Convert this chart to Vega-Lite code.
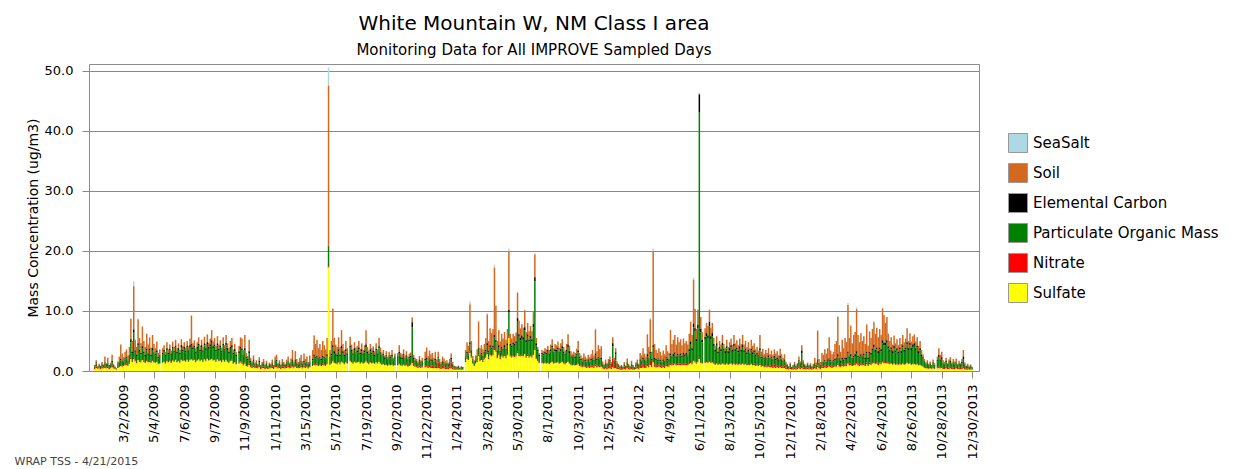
{
"$schema":"https://vega.github.io/schema/vega-lite/v6.json",
"width":890,"height":307,
"autosize":"none",
"padding":{"left":89,"top":64,"right":271,"bottom":98},
"background":"white",
"title":{"text":"White Mountain W, NM Class I area","subtitle":"Monitoring Data for All IMPROVE Sampled Days","frame":"group","anchor":"middle","fontSize":20,"fontWeight":"normal","color":"black","subtitleFontSize":15,"subtitleColor":"black","offset":6,"subtitlePadding":9},
"data":{"values":[
{"t":"2009-01-01","a":0,"b":0.1,"c":0.1,"d":0.3,"e":0.2,"f":0.3},
{"t":"2009-01-04","a":0,"b":0.4,"c":0.1,"d":0.5,"e":0.3,"f":0.5},
{"t":"2009-01-07","a":0,"b":0.1,"c":0.1,"d":0.2,"e":0.1,"f":0.3},
{"t":"2009-01-10","a":0,"b":0.2,"c":0.1,"d":0.3,"e":0.2,"f":0.4},
{"t":"2009-01-13","a":0,"b":0.1,"c":0.1,"d":0.2,"e":0.2,"f":0.3},
{"t":"2009-01-16","a":0,"b":0.3,"c":0.1,"d":0.4,"e":0.3,"f":0.4},
{"t":"2009-01-19","a":0,"b":0.1,"c":0.1,"d":0.3,"e":0.2,"f":0.4},
{"t":"2009-01-22","a":0,"b":1.0,"c":0.1,"d":0.5,"e":0.3,"f":0.5},
{"t":"2009-01-25","a":0,"b":0.2,"c":0.1,"d":0.4,"e":0.2,"f":0.4},
{"t":"2009-01-28","a":0,"b":0.9,"c":0.1,"d":0.5,"e":0.2,"f":0.5},
{"t":"2009-01-31","a":0,"b":0.1,"c":0.1,"d":0.3,"e":0.2,"f":0.3},
{"t":"2009-02-03","a":0,"b":0.3,"c":0.1,"d":0.4,"e":0.2,"f":0.4},
{"t":"2009-02-06","a":0,"b":1.0,"c":0.2,"d":0.6,"e":0.3,"f":0.6},
{"t":"2009-02-09","a":0,"b":0.2,"c":0.1,"d":0.3,"e":0.2,"f":0.4},
{"t":"2009-02-12","a":0,"b":0,"c":0.1,"d":0.2,"e":0.1,"f":0.3},
{"t":"2009-02-15","a":0,"b":0.1,"c":0,"d":0.1,"e":0.1,"f":0.2},
{"t":"2009-02-18","a":0,"b":0.4,"c":0.1,"d":0.4,"e":0.2,"f":0.5},
{"t":"2009-02-21","a":0,"b":0.9,"c":0.1,"d":0.6,"e":0.2,"f":0.6},
{"t":"2009-02-24","a":0,"b":2.4,"c":0.2,"d":0.8,"e":0.2,"f":0.8},
{"t":"2009-02-27","a":0,"b":1.2,"c":0.1,"d":0.7,"e":0.2,"f":0.7},
{"t":"2009-03-02","a":0,"b":0.6,"c":0.1,"d":0.6,"e":0.2,"f":0.8},
{"t":"2009-03-05","a":0,"b":1.1,"c":0.2,"d":0.8,"e":0.2,"f":0.9},
{"t":"2009-03-08","a":0,"b":1.3,"c":0.2,"d":0.9,"e":0.2,"f":1.0},
{"t":"2009-03-11","a":0,"b":0.9,"c":0.1,"d":0.7,"e":0.1,"f":0.8},
{"t":"2009-03-14","a":0,"b":1.4,"c":0.2,"d":1.0,"e":0.2,"f":1.2},
{"t":"2009-03-17","a":0.1,"b":3.4,"c":0.5,"d":2.5,"e":0.3,"f":2.0},
{"t":"2009-03-20","a":0,"b":1.8,"c":0.2,"d":1.3,"e":0.2,"f":1.5},
{"t":"2009-03-23","a":0.8,"b":7.2,"c":0.4,"d":4.2,"e":0.3,"f":2.0},
{"t":"2009-03-26","a":0,"b":1.8,"c":0.2,"d":1.4,"e":0.2,"f":1.6},
{"t":"2009-03-29","a":0,"b":1.3,"c":0.2,"d":1.0,"e":0.2,"f":1.3},
{"t":"2009-04-01","a":0.1,"b":4.0,"c":0.4,"d":2.2,"e":0.2,"f":1.8},
{"t":"2009-04-04","a":0,"b":2.0,"c":0.3,"d":1.5,"e":0.2,"f":1.5},
{"t":"2009-04-07","a":0,"b":1.6,"c":0.2,"d":1.2,"e":0.2,"f":1.4},
{"t":"2009-04-10","a":0,"b":3.3,"c":0.3,"d":1.8,"e":0.2,"f":1.8},
{"t":"2009-04-13","a":0,"b":1.8,"c":0.2,"d":1.3,"e":0.2,"f":1.5},
{"t":"2009-04-16","a":0,"b":1.3,"c":0.2,"d":1.1,"e":0.1,"f":1.3},
{"t":"2009-04-19","a":0,"b":2.5,"c":0.3,"d":1.6,"e":0.2,"f":1.6},
{"t":"2009-04-22","a":0,"b":1.5,"c":0.2,"d":1.2,"e":0.1,"f":1.4},
{"t":"2009-04-25","a":0,"b":1.9,"c":0.3,"d":1.7,"e":0.2,"f":1.5},
{"t":"2009-04-28","a":0,"b":1.2,"c":0.2,"d":1.1,"e":0.1,"f":1.3},
{"t":"2009-05-01","a":0,"b":2.2,"c":0.3,"d":1.8,"e":0.1,"f":1.6},
{"t":"2009-05-04","a":0,"b":1.4,"c":0.2,"d":1.4,"e":0.1,"f":1.4},
{"t":"2009-05-07","a":0,"b":1.0,"c":0.2,"d":1.2,"e":0.1,"f":1.3},
{"t":"2009-05-10","a":0,"b":1.5,"c":0.3,"d":1.5,"e":0.1,"f":1.5},
{"t":"2009-05-13","a":0,"b":0.7,"c":0.2,"d":0.9,"e":0.1,"f":1.1},
{"t":"2009-05-16","a":0,"b":1.0,"c":0.2,"d":1.1,"e":0.1,"f":1.2},
{"t":"2009-05-22","a":0,"b":0.8,"c":0.2,"d":1.4,"e":0.1,"f":1.3},
{"t":"2009-05-25","a":0,"b":0.8,"c":0.3,"d":1.6,"e":0.1,"f":1.5},
{"t":"2009-05-28","a":0,"b":0.5,"c":0.2,"d":1.2,"e":0.1,"f":1.2},
{"t":"2009-05-31","a":0,"b":1.0,"c":0.3,"d":1.8,"e":0.1,"f":1.6},
{"t":"2009-06-03","a":0,"b":0.6,"c":0.2,"d":1.3,"e":0.1,"f":1.4},
{"t":"2009-06-06","a":0,"b":0.7,"c":0.3,"d":1.7,"e":0.1,"f":1.6},
{"t":"2009-06-09","a":0,"b":0.5,"c":0.2,"d":1.3,"e":0.1,"f":1.3},
{"t":"2009-06-12","a":0,"b":0.9,"c":0.3,"d":1.9,"e":0.1,"f":1.7},
{"t":"2009-06-15","a":0,"b":0.7,"c":0.2,"d":1.5,"e":0.1,"f":1.5},
{"t":"2009-06-18","a":0,"b":1.0,"c":0.3,"d":2.0,"e":0.1,"f":1.8},
{"t":"2009-06-21","a":0,"b":0.6,"c":0.2,"d":1.5,"e":0.1,"f":1.4},
{"t":"2009-06-24","a":0,"b":0.8,"c":0.3,"d":1.8,"e":0.1,"f":1.6},
{"t":"2009-06-27","a":0,"b":0.5,"c":0.2,"d":1.4,"e":0.1,"f":1.3},
{"t":"2009-06-30","a":0,"b":1.0,"c":0.3,"d":2.1,"e":0.1,"f":1.8},
{"t":"2009-07-03","a":0,"b":0.7,"c":0.2,"d":1.6,"e":0.1,"f":1.6},
{"t":"2009-07-06","a":0,"b":0.8,"c":0.3,"d":1.9,"e":0.1,"f":1.7},
{"t":"2009-07-09","a":0,"b":0.6,"c":0.2,"d":1.5,"e":0.1,"f":1.5},
{"t":"2009-07-12","a":0,"b":0.8,"c":0.3,"d":2.0,"e":0.1,"f":1.8},
{"t":"2009-07-15","a":0,"b":0.7,"c":0.2,"d":1.6,"e":0.1,"f":1.5},
{"t":"2009-07-18","a":0,"b":1.1,"c":0.3,"d":2.1,"e":0.1,"f":1.8},
{"t":"2009-07-21","a":0.1,"b":4.7,"c":0.3,"d":2.2,"e":0.1,"f":1.9},
{"t":"2009-07-24","a":0,"b":0.7,"c":0.3,"d":1.8,"e":0.1,"f":1.7},
{"t":"2009-07-27","a":0,"b":0.9,"c":0.3,"d":2.0,"e":0.1,"f":1.8},
{"t":"2009-07-30","a":0,"b":0.6,"c":0.2,"d":1.5,"e":0.1,"f":1.4},
{"t":"2009-08-02","a":0,"b":0.8,"c":0.3,"d":1.9,"e":0.1,"f":1.7},
{"t":"2009-08-05","a":0,"b":1.1,"c":0.3,"d":2.2,"e":0.1,"f":1.9},
{"t":"2009-08-08","a":0,"b":0.7,"c":0.2,"d":1.6,"e":0.1,"f":1.6},
{"t":"2009-08-11","a":0,"b":0.9,"c":0.3,"d":2.1,"e":0.1,"f":1.8},
{"t":"2009-08-14","a":0,"b":0.6,"c":0.2,"d":1.6,"e":0.1,"f":1.5},
{"t":"2009-08-17","a":0,"b":1.1,"c":0.3,"d":2.3,"e":0.1,"f":1.9},
{"t":"2009-08-20","a":0,"b":0.7,"c":0.3,"d":1.8,"e":0.1,"f":1.6},
{"t":"2009-08-23","a":0,"b":1.3,"c":0.3,"d":2.4,"e":0.1,"f":2.0},
{"t":"2009-08-26","a":0,"b":0.7,"c":0.3,"d":1.9,"e":0.1,"f":1.7},
{"t":"2009-08-29","a":0,"b":1.0,"c":0.3,"d":2.2,"e":0.1,"f":1.8},
{"t":"2009-09-01","a":0,"b":1.7,"c":0.4,"d":2.6,"e":0.1,"f":2.0},
{"t":"2009-09-04","a":0,"b":0.8,"c":0.3,"d":2.0,"e":0.1,"f":1.7},
{"t":"2009-09-07","a":0,"b":1.1,"c":0.3,"d":2.2,"e":0.1,"f":1.8},
{"t":"2009-09-10","a":0,"b":0.7,"c":0.2,"d":1.7,"e":0.1,"f":1.5},
{"t":"2009-09-13","a":0,"b":1.2,"c":0.3,"d":2.3,"e":0.1,"f":1.9},
{"t":"2009-09-16","a":0,"b":0.7,"c":0.2,"d":1.8,"e":0.1,"f":1.6},
{"t":"2009-09-19","a":0,"b":0.9,"c":0.3,"d":2.1,"e":0.1,"f":1.7},
{"t":"2009-09-22","a":0,"b":0.6,"c":0.2,"d":1.6,"e":0.1,"f":1.4},
{"t":"2009-09-25","a":0,"b":1.1,"c":0.3,"d":2.3,"e":0.1,"f":1.8},
{"t":"2009-09-28","a":0,"b":0.7,"c":0.2,"d":1.8,"e":0.1,"f":1.5},
{"t":"2009-10-01","a":0,"b":1.3,"c":0.4,"d":2.4,"e":0.1,"f":1.8},
{"t":"2009-10-04","a":0,"b":0.8,"c":0.3,"d":1.9,"e":0.1,"f":1.5},
{"t":"2009-10-07","a":0,"b":0.6,"c":0.2,"d":1.6,"e":0.1,"f":1.3},
{"t":"2009-10-10","a":0,"b":1.0,"c":0.3,"d":2.0,"e":0.1,"f":1.6},
{"t":"2009-10-13","a":0,"b":1.2,"c":0.3,"d":2.1,"e":0.2,"f":1.7},
{"t":"2009-10-16","a":0,"b":0.6,"c":0.2,"d":1.5,"e":0.1,"f":1.2},
{"t":"2009-10-19","a":0,"b":0.9,"c":0.3,"d":1.8,"e":0.1,"f":1.4},
{"t":"2009-10-22","a":0,"b":0.5,"c":0.2,"d":1.3,"e":0.1,"f":1.1},
{"t":"2009-10-28","a":0,"b":0.9,"c":0.3,"d":1.6,"e":0.2,"f":1.2},
{"t":"2009-10-31","a":0,"b":1.6,"c":0.3,"d":2.1,"e":0.2,"f":1.4},
{"t":"2009-11-03","a":0,"b":1.7,"c":0.3,"d":2.0,"e":0.2,"f":1.2},
{"t":"2009-11-06","a":0,"b":0.9,"c":0.2,"d":1.3,"e":0.2,"f":0.9},
{"t":"2009-11-09","a":0,"b":2.2,"c":0.4,"d":2.0,"e":0.2,"f":1.2},
{"t":"2009-11-12","a":0,"b":0.7,"c":0.2,"d":1.1,"e":0.2,"f":0.8},
{"t":"2009-11-15","a":0,"b":0.5,"c":0.2,"d":0.9,"e":0.2,"f":0.7},
{"t":"2009-11-18","a":0,"b":1.9,"c":0.3,"d":1.8,"e":0.2,"f":1.0},
{"t":"2009-11-21","a":0,"b":0.5,"c":0.2,"d":0.7,"e":0.2,"f":0.6},
{"t":"2009-11-24","a":0,"b":0.3,"c":0.1,"d":0.5,"e":0.2,"f":0.5},
{"t":"2009-11-27","a":0,"b":0.7,"c":0.2,"d":0.8,"e":0.3,"f":0.6},
{"t":"2009-11-30","a":0,"b":0.3,"c":0.1,"d":0.4,"e":0.2,"f":0.4},
{"t":"2009-12-03","a":0,"b":0.4,"c":0.1,"d":0.5,"e":0.3,"f":0.5},
{"t":"2009-12-06","a":0,"b":0.2,"c":0.1,"d":0.3,"e":0.2,"f":0.4},
{"t":"2009-12-09","a":0,"b":0.6,"c":0.2,"d":0.6,"e":0.3,"f":0.6},
{"t":"2009-12-12","a":0,"b":0.1,"c":0.1,"d":0.3,"e":0.2,"f":0.3},
{"t":"2009-12-15","a":0,"b":0.3,"c":0.1,"d":0.4,"e":0.3,"f":0.4},
{"t":"2009-12-18","a":0,"b":0.6,"c":0.1,"d":0.5,"e":0.3,"f":0.5},
{"t":"2009-12-21","a":0,"b":0.2,"c":0.1,"d":0.3,"e":0.2,"f":0.3},
{"t":"2009-12-24","a":0,"b":0.4,"c":0.1,"d":0.5,"e":0.3,"f":0.4},
{"t":"2009-12-27","a":0,"b":0.1,"c":0.1,"d":0.2,"e":0.2,"f":0.3},
{"t":"2009-12-30","a":0,"b":0.3,"c":0.1,"d":0.4,"e":0.2,"f":0.4},
{"t":"2010-01-02","a":0,"b":0.2,"c":0.1,"d":0.3,"e":0.2,"f":0.4},
{"t":"2010-01-05","a":0,"b":0.5,"c":0.1,"d":0.5,"e":0.3,"f":0.5},
{"t":"2010-01-08","a":0,"b":0.1,"c":0.1,"d":0.3,"e":0.2,"f":0.3},
{"t":"2010-01-11","a":0,"b":0.7,"c":0.1,"d":0.6,"e":0.4,"f":0.6},
{"t":"2010-01-14","a":0,"b":0.9,"c":0.2,"d":0.6,"e":0.4,"f":0.6},
{"t":"2010-01-17","a":0,"b":0.2,"c":0.1,"d":0.4,"e":0.2,"f":0.4},
{"t":"2010-01-20","a":0,"b":0.4,"c":0.1,"d":0.5,"e":0.3,"f":0.5},
{"t":"2010-01-23","a":0,"b":0.2,"c":0.1,"d":0.3,"e":0.2,"f":0.3},
{"t":"2010-01-26","a":0,"b":0.6,"c":0.1,"d":0.5,"e":0.3,"f":0.5},
{"t":"2010-01-29","a":0,"b":0.3,"c":0.1,"d":0.4,"e":0.3,"f":0.4},
{"t":"2010-02-01","a":0,"b":0.2,"c":0.1,"d":0.3,"e":0.2,"f":0.4},
{"t":"2010-02-04","a":0,"b":0.5,"c":0.1,"d":0.5,"e":0.3,"f":0.5},
{"t":"2010-02-07","a":0,"b":0.8,"c":0.1,"d":0.6,"e":0.3,"f":0.6},
{"t":"2010-02-10","a":0,"b":0.3,"c":0.1,"d":0.4,"e":0.2,"f":0.4},
{"t":"2010-02-13","a":0,"b":0.7,"c":0.1,"d":0.5,"e":0.3,"f":0.5},
{"t":"2010-02-16","a":0,"b":1.6,"c":0.2,"d":0.7,"e":0.3,"f":0.7},
{"t":"2010-02-19","a":0,"b":0.5,"c":0.1,"d":0.4,"e":0.2,"f":0.4},
{"t":"2010-02-22","a":0,"b":1.4,"c":0.2,"d":0.7,"e":0.3,"f":0.7},
{"t":"2010-02-25","a":0,"b":0.7,"c":0.1,"d":0.5,"e":0.2,"f":0.5},
{"t":"2010-02-28","a":0,"b":0.4,"c":0.1,"d":0.4,"e":0.2,"f":0.4},
{"t":"2010-03-03","a":0,"b":0.8,"c":0.1,"d":0.5,"e":0.3,"f":0.5},
{"t":"2010-03-06","a":0,"b":1.1,"c":0.1,"d":0.6,"e":0.3,"f":0.6},
{"t":"2010-03-09","a":0,"b":0.5,"c":0.1,"d":0.4,"e":0.2,"f":0.4},
{"t":"2010-03-12","a":0,"b":1.2,"c":0.2,"d":0.6,"e":0.3,"f":0.6},
{"t":"2010-03-15","a":0,"b":0.7,"c":0.1,"d":0.5,"e":0.2,"f":0.5},
{"t":"2010-03-18","a":0,"b":0.9,"c":0.1,"d":0.6,"e":0.2,"f":0.6},
{"t":"2010-03-21","a":0,"b":0.4,"c":0.1,"d":0.4,"e":0.2,"f":0.4},
{"t":"2010-03-24","a":0,"b":1.1,"c":0.1,"d":0.6,"e":0.2,"f":0.6},
{"t":"2010-03-30","a":0,"b":1.5,"c":0.2,"d":0.8,"e":0.2,"f":0.8},
{"t":"2010-04-02","a":0.1,"b":3.2,"c":0.3,"d":1.2,"e":0.2,"f":1.0},
{"t":"2010-04-05","a":0,"b":2.2,"c":0.2,"d":1.0,"e":0.2,"f":0.9},
{"t":"2010-04-08","a":0,"b":2.7,"c":0.2,"d":1.1,"e":0.2,"f":1.0},
{"t":"2010-04-11","a":0,"b":1.7,"c":0.2,"d":0.9,"e":0.2,"f":0.8},
{"t":"2010-04-14","a":0,"b":2.2,"c":0.2,"d":1.0,"e":0.2,"f":0.9},
{"t":"2010-04-17","a":0,"b":1.5,"c":0.2,"d":0.8,"e":0.2,"f":0.8},
{"t":"2010-04-20","a":0,"b":2.5,"c":0.2,"d":1.1,"e":0.2,"f":1.0},
{"t":"2010-04-23","a":0,"b":2.0,"c":0.2,"d":1.0,"e":0.2,"f":0.9},
{"t":"2010-04-26","a":0,"b":1.5,"c":0.2,"d":0.9,"e":0.2,"f":0.8},
{"t":"2010-04-29","a":0,"b":2.7,"c":0.3,"d":1.2,"e":0.2,"f":1.1},
{"t":"2010-05-02","a":3.0,"b":26.7,"c":0.1,"d":3.3,"e":0.2,"f":17.2},
{"t":"2010-05-05","a":0,"b":1.2,"c":0.2,"d":1.0,"e":0.1,"f":1.0},
{"t":"2010-05-08","a":0,"b":2.1,"c":0.3,"d":1.3,"e":0.1,"f":1.2},
{"t":"2010-05-11","a":0,"b":6.1,"c":0.4,"d":2.2,"e":0.1,"f":1.6},
{"t":"2010-05-14","a":0,"b":2.2,"c":0.3,"d":1.6,"e":0.1,"f":1.3},
{"t":"2010-05-17","a":0,"b":1.5,"c":0.2,"d":1.4,"e":0.1,"f":1.2},
{"t":"2010-05-20","a":0,"b":1.3,"c":0.2,"d":1.3,"e":0.1,"f":1.1},
{"t":"2010-05-23","a":0,"b":2.0,"c":0.3,"d":1.8,"e":0.1,"f":1.4},
{"t":"2010-05-26","a":0,"b":1.3,"c":0.2,"d":1.3,"e":0.1,"f":1.1},
{"t":"2010-05-29","a":0,"b":2.6,"c":0.4,"d":2.2,"e":0.1,"f":1.5},
{"t":"2010-06-01","a":0,"b":1.2,"c":0.3,"d":1.6,"e":0.1,"f":1.3},
{"t":"2010-06-04","a":0,"b":0.8,"c":0.2,"d":1.3,"e":0.1,"f":1.1},
{"t":"2010-06-07","a":0,"b":1.4,"c":0.3,"d":1.8,"e":0.1,"f":1.4},
{"t":"2010-06-10","a":0,"b":0.9,"c":0.2,"d":1.4,"e":0.1,"f":1.2},
{"t":"2010-06-16","a":0,"b":1.5,"c":0.3,"d":2.2,"e":0.1,"f":1.6},
{"t":"2010-06-19","a":0,"b":0.9,"c":0.3,"d":1.7,"e":0.1,"f":1.4},
{"t":"2010-06-22","a":0,"b":0.7,"c":0.2,"d":1.4,"e":0.1,"f":1.2},
{"t":"2010-06-25","a":0,"b":1.0,"c":0.3,"d":1.9,"e":0.1,"f":1.5},
{"t":"2010-06-28","a":0,"b":0.8,"c":0.2,"d":1.5,"e":0.1,"f":1.3},
{"t":"2010-07-01","a":0,"b":0.8,"c":0.3,"d":1.6,"e":0.1,"f":1.4},
{"t":"2010-07-04","a":0,"b":1.1,"c":0.3,"d":2.0,"e":0.1,"f":1.5},
{"t":"2010-07-07","a":0,"b":0.7,"c":0.2,"d":1.5,"e":0.1,"f":1.2},
{"t":"2010-07-10","a":0,"b":1.0,"c":0.3,"d":1.8,"e":0.1,"f":1.4},
{"t":"2010-07-13","a":0,"b":0.6,"c":0.2,"d":1.4,"e":0.1,"f":1.2},
{"t":"2010-07-16","a":0,"b":0.9,"c":0.3,"d":1.7,"e":0.1,"f":1.3},
{"t":"2010-07-19","a":0,"b":2.4,"c":0.4,"d":2.3,"e":0.1,"f":1.6},
{"t":"2010-07-22","a":0,"b":0.8,"c":0.2,"d":1.6,"e":0.1,"f":1.3},
{"t":"2010-07-25","a":0,"b":0.6,"c":0.2,"d":1.4,"e":0.1,"f":1.1},
{"t":"2010-07-28","a":0,"b":0.9,"c":0.3,"d":1.8,"e":0.1,"f":1.4},
{"t":"2010-07-31","a":0,"b":0.8,"c":0.2,"d":1.5,"e":0.1,"f":1.2},
{"t":"2010-08-03","a":0,"b":0.7,"c":0.3,"d":1.7,"e":0.1,"f":1.3},
{"t":"2010-08-06","a":0,"b":0.6,"c":0.2,"d":1.3,"e":0.1,"f":1.1},
{"t":"2010-08-09","a":0,"b":0.9,"c":0.3,"d":1.9,"e":0.1,"f":1.4},
{"t":"2010-08-12","a":0,"b":0.7,"c":0.2,"d":1.4,"e":0.1,"f":1.2},
{"t":"2010-08-15","a":0,"b":1.4,"c":0.3,"d":2.2,"e":0.1,"f":1.5},
{"t":"2010-08-18","a":0,"b":0.8,"c":0.2,"d":1.6,"e":0.1,"f":1.2},
{"t":"2010-08-21","a":0,"b":0.5,"c":0.2,"d":1.3,"e":0.1,"f":1.0},
{"t":"2010-08-24","a":0,"b":0.7,"c":0.2,"d":1.4,"e":0.1,"f":1.1},
{"t":"2010-08-27","a":0,"b":0.4,"c":0.2,"d":1.0,"e":0.1,"f":0.9},
{"t":"2010-08-30","a":0,"b":0.7,"c":0.2,"d":1.3,"e":0.1,"f":1.0},
{"t":"2010-09-02","a":0,"b":0.4,"c":0.1,"d":1.0,"e":0.1,"f":0.8},
{"t":"2010-09-05","a":0,"b":0.6,"c":0.2,"d":1.3,"e":0.1,"f":1.0},
{"t":"2010-09-08","a":0,"b":0.4,"c":0.2,"d":1.1,"e":0.1,"f":0.9},
{"t":"2010-09-11","a":0,"b":0.8,"c":0.2,"d":1.4,"e":0.1,"f":1.0},
{"t":"2010-09-14","a":0,"b":0.3,"c":0.1,"d":0.9,"e":0.1,"f":0.8},
{"t":"2010-09-17","a":0,"b":0.5,"c":0.2,"d":1.2,"e":0.1,"f":0.9},
{"t":"2010-09-23","a":0,"b":0.6,"c":0.2,"d":1.2,"e":0.1,"f":0.9},
{"t":"2010-09-26","a":0,"b":1.1,"c":0.3,"d":1.7,"e":0.1,"f":1.1},
{"t":"2010-09-29","a":0,"b":0.6,"c":0.2,"d":1.2,"e":0.1,"f":0.9},
{"t":"2010-10-02","a":0,"b":0.6,"c":0.2,"d":1.1,"e":0.1,"f":0.8},
{"t":"2010-10-05","a":0,"b":0.8,"c":0.2,"d":1.5,"e":0.1,"f":1.0},
{"t":"2010-10-08","a":0,"b":0.5,"c":0.2,"d":1.0,"e":0.1,"f":0.8},
{"t":"2010-10-11","a":0,"b":0.7,"c":0.2,"d":1.3,"e":0.2,"f":0.9},
{"t":"2010-10-14","a":0,"b":0.5,"c":0.2,"d":0.9,"e":0.1,"f":0.7},
{"t":"2010-10-17","a":0,"b":0.6,"c":0.2,"d":1.1,"e":0.2,"f":0.8},
{"t":"2010-10-20","a":0,"b":0.6,"c":0.2,"d":1.2,"e":0.2,"f":0.9},
{"t":"2010-10-23","a":0.1,"b":0.8,"c":0.8,"d":5.8,"e":0.2,"f":1.3},
{"t":"2010-10-26","a":0,"b":0.5,"c":0.2,"d":1.0,"e":0.2,"f":0.8},
{"t":"2010-10-29","a":0,"b":0.4,"c":0.1,"d":0.8,"e":0.2,"f":0.7},
{"t":"2010-11-01","a":0,"b":0.4,"c":0.1,"d":0.7,"e":0.2,"f":0.6},
{"t":"2010-11-04","a":0,"b":0.3,"c":0.1,"d":0.5,"e":0.2,"f":0.5},
{"t":"2010-11-07","a":0,"b":0.6,"c":0.2,"d":0.8,"e":0.3,"f":0.6},
{"t":"2010-11-10","a":0,"b":0.4,"c":0.1,"d":0.6,"e":0.2,"f":0.5},
{"t":"2010-11-13","a":0,"b":0.6,"c":0.1,"d":0.7,"e":0.2,"f":0.6},
{"t":"2010-11-19","a":0,"b":1.2,"c":0.2,"d":0.9,"e":0.3,"f":0.6},
{"t":"2010-11-22","a":0,"b":1.7,"c":0.2,"d":1.0,"e":0.3,"f":0.7},
{"t":"2010-11-25","a":0,"b":0.9,"c":0.1,"d":0.7,"e":0.3,"f":0.5},
{"t":"2010-11-28","a":0,"b":1.3,"c":0.2,"d":0.9,"e":0.4,"f":0.6},
{"t":"2010-12-01","a":0,"b":0.9,"c":0.2,"d":0.8,"e":0.4,"f":0.5},
{"t":"2010-12-04","a":0,"b":1.1,"c":0.2,"d":0.8,"e":0.4,"f":0.5},
{"t":"2010-12-07","a":0,"b":0.8,"c":0.1,"d":0.6,"e":0.3,"f":0.4},
{"t":"2010-12-10","a":0,"b":1.2,"c":0.2,"d":0.9,"e":0.4,"f":0.5},
{"t":"2010-12-13","a":0,"b":0.6,"c":0.1,"d":0.5,"e":0.3,"f":0.4},
{"t":"2010-12-16","a":0,"b":0.9,"c":0.2,"d":0.7,"e":0.9,"f":0.5},
{"t":"2010-12-19","a":0,"b":0.6,"c":0.1,"d":0.5,"e":0.4,"f":0.4},
{"t":"2010-12-22","a":0,"b":0.4,"c":0.1,"d":0.4,"e":0.3,"f":0.3},
{"t":"2010-12-25","a":0,"b":0.8,"c":0.1,"d":0.6,"e":0.5,"f":0.4},
{"t":"2010-12-28","a":0,"b":0.7,"c":0.1,"d":0.5,"e":0.4,"f":0.4},
{"t":"2010-12-31","a":0,"b":0.5,"c":0.1,"d":0.4,"e":0.3,"f":0.3},
{"t":"2011-01-03","a":0,"b":0.5,"c":0.1,"d":0.5,"e":0.4,"f":0.3},
{"t":"2011-01-06","a":0,"b":0.3,"c":0.1,"d":0.4,"e":0.3,"f":0.3},
{"t":"2011-01-09","a":0,"b":0.6,"c":0.1,"d":0.5,"e":0.4,"f":0.4},
{"t":"2011-01-12","a":0,"b":0.7,"c":0.2,"d":0.6,"e":1.0,"f":0.4},
{"t":"2011-01-15","a":0,"b":0.4,"c":0.1,"d":0.4,"e":0.3,"f":0.3},
{"t":"2011-01-18","a":0,"b":0.1,"c":0.1,"d":0.3,"e":0.2,"f":0.2},
{"t":"2011-01-21","a":0,"b":0.1,"c":0.1,"d":0.2,"e":0.2,"f":0.2},
{"t":"2011-01-24","a":0,"b":0.1,"c":0.1,"d":0.2,"e":0.1,"f":0.2},
{"t":"2011-01-27","a":0,"b":0.1,"c":0.1,"d":0.3,"e":0.2,"f":0.2},
{"t":"2011-01-30","a":0,"b":0.1,"c":0,"d":0.2,"e":0.1,"f":0.2},
{"t":"2011-02-02","a":0,"b":0.1,"c":0.1,"d":0.2,"e":0.2,"f":0.2},
{"t":"2011-02-05","a":0,"b":0.1,"c":0.1,"d":0.2,"e":0.1,"f":0.2},
{"t":"2011-02-11","a":0,"b":1.1,"c":0.1,"d":0.6,"e":0.2,"f":1.5},
{"t":"2011-02-14","a":0,"b":1.6,"c":0.2,"d":0.8,"e":0.2,"f":2.0},
{"t":"2011-02-17","a":0,"b":1.4,"c":0.1,"d":0.7,"e":0.2,"f":1.8},
{"t":"2011-02-20","a":0.5,"b":6.3,"c":0.3,"d":1.2,"e":0.3,"f":3.0},
{"t":"2011-02-23","a":0,"b":1.6,"c":0.2,"d":0.8,"e":0.2,"f":2.2},
{"t":"2011-02-26","a":0,"b":0.6,"c":0.1,"d":0.5,"e":0.1,"f":1.2},
{"t":"2011-03-01","a":0,"b":0.4,"c":0.1,"d":0.4,"e":0.1,"f":0.8},
{"t":"2011-03-04","a":0,"b":0.7,"c":0.1,"d":0.5,"e":0.1,"f":1.2},
{"t":"2011-03-07","a":0,"b":1.2,"c":0.1,"d":0.6,"e":0.2,"f":1.5},
{"t":"2011-03-10","a":0.2,"b":4.3,"c":0.2,"d":1.0,"e":0.2,"f":2.5},
{"t":"2011-03-13","a":0,"b":1.2,"c":0.1,"d":0.7,"e":0.2,"f":1.6},
{"t":"2011-03-16","a":0,"b":1.3,"c":0.2,"d":0.8,"e":0.2,"f":1.8},
{"t":"2011-03-19","a":0,"b":1.1,"c":0.1,"d":0.7,"e":0.2,"f":1.5},
{"t":"2011-03-22","a":0,"b":1.4,"c":0.2,"d":0.8,"e":0.2,"f":1.9},
{"t":"2011-03-25","a":0,"b":2.0,"c":0.2,"d":0.9,"e":0.2,"f":2.2},
{"t":"2011-03-28","a":0.2,"b":4.8,"c":0.3,"d":1.2,"e":0.3,"f":2.8},
{"t":"2011-03-31","a":0,"b":1.7,"c":0.2,"d":0.9,"e":0.2,"f":2.0},
{"t":"2011-04-03","a":0,"b":2.8,"c":0.3,"d":1.2,"e":0.2,"f":2.6},
{"t":"2011-04-06","a":0,"b":2.5,"c":0.2,"d":1.0,"e":0.2,"f":2.4},
{"t":"2011-04-09","a":0,"b":2.8,"c":0.3,"d":1.1,"e":0.2,"f":2.6},
{"t":"2011-04-12","a":0.5,"b":11.2,"c":0.4,"d":1.8,"e":0.3,"f":3.5},
{"t":"2011-04-15","a":0.2,"b":5.7,"c":0.3,"d":1.4,"e":0.2,"f":3.2},
{"t":"2011-04-18","a":0,"b":1.6,"c":0.2,"d":0.9,"e":0.2,"f":2.1},
{"t":"2011-04-21","a":0,"b":2.5,"c":0.3,"d":1.2,"e":0.2,"f":2.6},
{"t":"2011-04-24","a":0,"b":1.6,"c":0.2,"d":0.9,"e":0.2,"f":2.0},
{"t":"2011-04-27","a":0,"b":2.2,"c":0.3,"d":1.1,"e":0.2,"f":2.4},
{"t":"2011-04-30","a":0,"b":1.8,"c":0.2,"d":1.0,"e":0.2,"f":2.2},
{"t":"2011-05-03","a":0,"b":2.2,"c":0.3,"d":1.3,"e":0.2,"f":2.5},
{"t":"2011-05-06","a":0,"b":1.6,"c":0.2,"d":1.1,"e":0.2,"f":2.1},
{"t":"2011-05-09","a":0,"b":2.4,"c":0.3,"d":1.5,"e":0.2,"f":2.6},
{"t":"2011-05-12","a":0.5,"b":9.7,"c":0.4,"d":4.0,"e":0.3,"f":5.5},
{"t":"2011-05-15","a":0,"b":1.7,"c":0.3,"d":1.6,"e":0.2,"f":2.4},
{"t":"2011-05-18","a":0,"b":1.2,"c":0.3,"d":1.5,"e":0.2,"f":2.2},
{"t":"2011-05-21","a":0,"b":1.5,"c":0.3,"d":1.8,"e":0.2,"f":2.4},
{"t":"2011-05-24","a":0,"b":1.3,"c":0.3,"d":1.7,"e":0.2,"f":2.3},
{"t":"2011-05-27","a":0,"b":1.5,"c":0.3,"d":2.0,"e":0.2,"f":2.4},
{"t":"2011-05-30","a":0.2,"b":4.2,"c":0.6,"d":5.0,"e":0.2,"f":3.0},
{"t":"2011-06-02","a":0,"b":2.3,"c":0.4,"d":3.0,"e":0.2,"f":2.5},
{"t":"2011-06-05","a":0,"b":1.6,"c":0.4,"d":2.5,"e":0.2,"f":2.4},
{"t":"2011-06-08","a":0,"b":1.9,"c":0.4,"d":2.8,"e":0.2,"f":2.5},
{"t":"2011-06-11","a":0,"b":1.6,"c":0.4,"d":2.6,"e":0.2,"f":2.4},
{"t":"2011-06-14","a":0.1,"b":2.8,"c":0.5,"d":3.8,"e":0.2,"f":2.8},
{"t":"2011-06-17","a":0,"b":1.4,"c":0.3,"d":2.4,"e":0.2,"f":2.2},
{"t":"2011-06-20","a":0,"b":1.9,"c":0.4,"d":3.0,"e":0.2,"f":2.5},
{"t":"2011-06-23","a":0,"b":1.4,"c":0.3,"d":2.5,"e":0.2,"f":2.2},
{"t":"2011-06-26","a":0,"b":1.7,"c":0.4,"d":2.8,"e":0.2,"f":2.4},
{"t":"2011-06-29","a":0,"b":1.3,"c":0.3,"d":2.6,"e":0.2,"f":2.2},
{"t":"2011-07-02","a":0,"b":2.0,"c":0.5,"d":4.5,"e":0.2,"f":2.6},
{"t":"2011-07-05","a":0.2,"b":3.8,"c":0.7,"d":11.2,"e":0.2,"f":3.5},
{"t":"2011-07-08","a":0,"b":0.9,"c":0.3,"d":2.2,"e":0.1,"f":2.0},
{"t":"2011-07-11","a":0,"b":0.5,"c":0.2,"d":1.6,"e":0.1,"f":1.6},
{"t":"2011-07-14","a":0,"b":0.3,"c":0.2,"d":1.1,"e":0.1,"f":1.3},
{"t":"2011-07-20","a":0,"b":0.5,"c":0.2,"d":1.4,"e":0.1,"f":1.3},
{"t":"2011-07-23","a":0,"b":0.5,"c":0.2,"d":1.3,"e":0.1,"f":1.2},
{"t":"2011-07-26","a":0,"b":0.6,"c":0.2,"d":1.6,"e":0.1,"f":1.3},
{"t":"2011-07-29","a":0,"b":0.6,"c":0.2,"d":1.5,"e":0.1,"f":1.2},
{"t":"2011-08-01","a":0,"b":0.7,"c":0.3,"d":1.8,"e":0.1,"f":1.3},
{"t":"2011-08-04","a":0,"b":0.6,"c":0.2,"d":1.5,"e":0.1,"f":1.1},
{"t":"2011-08-07","a":0,"b":0.8,"c":0.3,"d":1.9,"e":0.1,"f":1.3},
{"t":"2011-08-10","a":0,"b":1.1,"c":0.3,"d":2.3,"e":0.1,"f":1.5},
{"t":"2011-08-13","a":0,"b":0.7,"c":0.2,"d":1.6,"e":0.1,"f":1.2},
{"t":"2011-08-16","a":0,"b":0.9,"c":0.3,"d":1.9,"e":0.1,"f":1.3},
{"t":"2011-08-19","a":0,"b":0.8,"c":0.3,"d":1.8,"e":0.1,"f":1.3},
{"t":"2011-08-22","a":0,"b":1.0,"c":0.3,"d":2.1,"e":0.1,"f":1.4},
{"t":"2011-08-25","a":0,"b":0.8,"c":0.2,"d":1.6,"e":0.1,"f":1.2},
{"t":"2011-08-28","a":0,"b":1.0,"c":0.3,"d":1.9,"e":0.1,"f":1.3},
{"t":"2011-08-31","a":0,"b":1.2,"c":0.3,"d":2.2,"e":0.1,"f":1.5},
{"t":"2011-09-03","a":0,"b":0.8,"c":0.2,"d":1.7,"e":0.1,"f":1.2},
{"t":"2011-09-06","a":0,"b":0.6,"c":0.2,"d":1.4,"e":0.1,"f":1.1},
{"t":"2011-09-09","a":0,"b":1.0,"c":0.3,"d":1.8,"e":0.1,"f":1.3},
{"t":"2011-09-12","a":0,"b":1.7,"c":0.4,"d":2.4,"e":0.1,"f":1.5},
{"t":"2011-09-15","a":0,"b":0.9,"c":0.3,"d":1.7,"e":0.1,"f":1.2},
{"t":"2011-09-18","a":0,"b":0.7,"c":0.2,"d":1.3,"e":0.1,"f":1.0},
{"t":"2011-09-21","a":0,"b":0.5,"c":0.2,"d":1.2,"e":0.1,"f":0.9},
{"t":"2011-09-24","a":0,"b":0.6,"c":0.2,"d":1.3,"e":0.1,"f":1.0},
{"t":"2011-09-27","a":0,"b":0.6,"c":0.2,"d":1.2,"e":0.1,"f":0.9},
{"t":"2011-09-30","a":0,"b":0.9,"c":0.2,"d":1.5,"e":0.1,"f":1.0},
{"t":"2011-10-03","a":0,"b":1.6,"c":0.3,"d":1.8,"e":0.2,"f":1.1},
{"t":"2011-10-06","a":0,"b":0.7,"c":0.2,"d":1.1,"e":0.2,"f":0.8},
{"t":"2011-10-09","a":0,"b":0.6,"c":0.2,"d":0.9,"e":0.2,"f":0.7},
{"t":"2011-10-12","a":0,"b":0.5,"c":0.1,"d":0.8,"e":0.2,"f":0.6},
{"t":"2011-10-15","a":0,"b":0.8,"c":0.2,"d":1.0,"e":0.2,"f":0.7},
{"t":"2011-10-18","a":0,"b":0.6,"c":0.2,"d":0.8,"e":0.2,"f":0.6},
{"t":"2011-10-21","a":0,"b":0.6,"c":0.1,"d":0.7,"e":0.2,"f":0.5},
{"t":"2011-10-24","a":0,"b":0.8,"c":0.2,"d":0.9,"e":0.2,"f":0.6},
{"t":"2011-10-27","a":0,"b":0.8,"c":0.1,"d":0.7,"e":0.2,"f":0.5},
{"t":"2011-10-30","a":0,"b":0.8,"c":0.2,"d":0.9,"e":0.3,"f":0.6},
{"t":"2011-11-02","a":0,"b":1.4,"c":0.2,"d":1.0,"e":0.3,"f":0.6},
{"t":"2011-11-05","a":0,"b":0.8,"c":0.2,"d":0.8,"e":0.3,"f":0.5},
{"t":"2011-11-08","a":0.2,"b":4.0,"c":0.3,"d":1.5,"e":0.3,"f":0.8},
{"t":"2011-11-11","a":0,"b":1.3,"c":0.2,"d":0.9,"e":0.3,"f":0.6},
{"t":"2011-11-14","a":0,"b":2.0,"c":0.2,"d":1.1,"e":0.3,"f":0.7},
{"t":"2011-11-17","a":0,"b":1.5,"c":0.2,"d":1.0,"e":0.3,"f":0.6},
{"t":"2011-11-20","a":0,"b":1.9,"c":0.2,"d":1.0,"e":0.3,"f":0.7},
{"t":"2011-11-23","a":0,"b":0.4,"c":0.1,"d":0.5,"e":0.2,"f":0.4},
{"t":"2011-11-26","a":0,"b":0.2,"c":0.1,"d":0.3,"e":0.2,"f":0.3},
{"t":"2011-11-29","a":0,"b":0.6,"c":0.1,"d":0.5,"e":0.3,"f":0.4},
{"t":"2011-12-02","a":0,"b":0.2,"c":0.1,"d":0.4,"e":0.3,"f":0.3},
{"t":"2011-12-05","a":0,"b":0.6,"c":0.1,"d":0.5,"e":0.4,"f":0.4},
{"t":"2011-12-08","a":0,"b":0.6,"c":0.2,"d":0.7,"e":0.5,"f":0.4},
{"t":"2011-12-11","a":0,"b":0.4,"c":0.1,"d":0.4,"e":0.3,"f":0.3},
{"t":"2011-12-14","a":0,"b":1.0,"c":0.5,"d":2.0,"e":1.5,"f":0.6},
{"t":"2011-12-17","a":0,"b":0.5,"c":0.1,"d":0.6,"e":0.6,"f":0.4},
{"t":"2011-12-20","a":0,"b":0.7,"c":0.3,"d":1.1,"e":1.2,"f":0.5},
{"t":"2011-12-23","a":0,"b":0.4,"c":0.1,"d":0.4,"e":0.4,"f":0.3},
{"t":"2011-12-26","a":0,"b":0.2,"c":0.1,"d":0.3,"e":0.3,"f":0.3},
{"t":"2011-12-29","a":0,"b":0.1,"c":0.1,"d":0.2,"e":0.2,"f":0.2},
{"t":"2012-01-01","a":0,"b":0.1,"c":0.1,"d":0.3,"e":0.3,"f":0.2},
{"t":"2012-01-04","a":0,"b":0,"c":0.1,"d":0.2,"e":0.2,"f":0.2},
{"t":"2012-01-07","a":0,"b":0.3,"c":0.1,"d":0.4,"e":0.4,"f":0.3},
{"t":"2012-01-10","a":0,"b":0.1,"c":0.1,"d":0.3,"e":0.2,"f":0.2},
{"t":"2012-01-13","a":0,"b":0.6,"c":0.1,"d":0.5,"e":0.5,"f":0.4},
{"t":"2012-01-16","a":0,"b":0.2,"c":0.1,"d":0.3,"e":0.3,"f":0.3},
{"t":"2012-01-19","a":0,"b":0.1,"c":0.1,"d":0.2,"e":0.2,"f":0.2},
{"t":"2012-01-22","a":0,"b":0.5,"c":0.1,"d":0.4,"e":0.4,"f":0.3},
{"t":"2012-01-25","a":0,"b":0.1,"c":0.1,"d":0.3,"e":0.3,"f":0.2},
{"t":"2012-01-28","a":0,"b":0,"c":0.1,"d":0.2,"e":0.1,"f":0.2},
{"t":"2012-01-31","a":0,"b":0.3,"c":0.1,"d":0.4,"e":0.3,"f":0.3},
{"t":"2012-02-03","a":0,"b":0.5,"c":0.1,"d":0.5,"e":0.4,"f":0.4},
{"t":"2012-02-06","a":0,"b":0.2,"c":0.1,"d":0.3,"e":0.3,"f":0.3},
{"t":"2012-02-09","a":0,"b":1.1,"c":0.2,"d":0.7,"e":0.5,"f":0.5},
{"t":"2012-02-12","a":0,"b":1.0,"c":0.1,"d":0.6,"e":0.4,"f":0.5},
{"t":"2012-02-15","a":0,"b":1.6,"c":0.2,"d":0.8,"e":0.6,"f":0.6},
{"t":"2012-02-18","a":0,"b":1.0,"c":0.2,"d":0.7,"e":0.5,"f":0.5},
{"t":"2012-02-21","a":0,"b":0.8,"c":0.1,"d":0.6,"e":0.4,"f":0.5},
{"t":"2012-02-24","a":0,"b":3.3,"c":0.3,"d":1.2,"e":0.5,"f":0.8},
{"t":"2012-02-27","a":0,"b":1.9,"c":0.2,"d":0.9,"e":0.4,"f":0.6},
{"t":"2012-03-01","a":0.2,"b":5.4,"c":0.3,"d":1.4,"e":0.5,"f":1.0},
{"t":"2012-03-04","a":0,"b":1.2,"c":0.2,"d":0.8,"e":0.4,"f":0.6},
{"t":"2012-03-07","a":0.5,"b":15.6,"c":0.4,"d":1.9,"e":0.6,"f":1.4},
{"t":"2012-03-10","a":0,"b":2.3,"c":0.2,"d":0.9,"e":0.4,"f":0.7},
{"t":"2012-03-13","a":0,"b":1.5,"c":0.2,"d":0.8,"e":0.4,"f":0.6},
{"t":"2012-03-16","a":0,"b":1.2,"c":0.2,"d":0.7,"e":0.3,"f":0.6},
{"t":"2012-03-19","a":0,"b":1.7,"c":0.2,"d":0.8,"e":0.4,"f":0.7},
{"t":"2012-03-22","a":0,"b":1.4,"c":0.2,"d":0.7,"e":0.3,"f":0.6},
{"t":"2012-03-25","a":0,"b":1.1,"c":0.1,"d":0.6,"e":0.3,"f":0.5},
{"t":"2012-03-28","a":0,"b":1.5,"c":0.2,"d":0.8,"e":0.3,"f":0.6},
{"t":"2012-03-31","a":0,"b":1.2,"c":0.1,"d":0.7,"e":0.3,"f":0.5},
{"t":"2012-04-03","a":0,"b":2.0,"c":0.2,"d":1.0,"e":0.3,"f":0.8},
{"t":"2012-04-06","a":0,"b":1.3,"c":0.2,"d":0.8,"e":0.3,"f":0.7},
{"t":"2012-04-09","a":0,"b":1.1,"c":0.2,"d":0.8,"e":0.2,"f":0.7},
{"t":"2012-04-12","a":0.1,"b":3.9,"c":0.3,"d":1.3,"e":0.3,"f":1.0},
{"t":"2012-04-15","a":0,"b":2.1,"c":0.2,"d":1.1,"e":0.2,"f":0.9},
{"t":"2012-04-18","a":0,"b":2.4,"c":0.3,"d":1.3,"e":0.2,"f":1.0},
{"t":"2012-04-21","a":0,"b":2.9,"c":0.3,"d":1.5,"e":0.2,"f":1.1},
{"t":"2012-04-24","a":0,"b":2.0,"c":0.2,"d":1.1,"e":0.2,"f":0.9},
{"t":"2012-04-27","a":0,"b":2.7,"c":0.3,"d":1.4,"e":0.2,"f":1.0},
{"t":"2012-04-30","a":0,"b":2.2,"c":0.2,"d":1.2,"e":0.2,"f":1.0},
{"t":"2012-05-03","a":0,"b":2.4,"c":0.3,"d":1.4,"e":0.2,"f":1.0},
{"t":"2012-05-06","a":0,"b":1.8,"c":0.2,"d":1.2,"e":0.2,"f":0.9},
{"t":"2012-05-09","a":0,"b":2.4,"c":0.3,"d":1.5,"e":0.2,"f":1.0},
{"t":"2012-05-12","a":0,"b":1.9,"c":0.2,"d":1.3,"e":0.2,"f":1.0},
{"t":"2012-05-15","a":0,"b":2.0,"c":0.3,"d":1.5,"e":0.2,"f":1.0},
{"t":"2012-05-18","a":0,"b":1.8,"c":0.2,"d":1.3,"e":0.2,"f":0.9},
{"t":"2012-05-21","a":0,"b":2.6,"c":0.3,"d":2.0,"e":0.2,"f":1.1},
{"t":"2012-05-24","a":0,"b":3.3,"c":0.4,"d":3.0,"e":0.2,"f":1.3},
{"t":"2012-05-27","a":0,"b":2.2,"c":0.3,"d":2.2,"e":0.2,"f":1.1},
{"t":"2012-05-30","a":0.3,"b":7.3,"c":0.6,"d":5.5,"e":0.2,"f":1.6},
{"t":"2012-06-02","a":0.1,"b":3.2,"c":0.5,"d":5.0,"e":0.2,"f":1.4},
{"t":"2012-06-05","a":0,"b":1.7,"c":0.4,"d":3.5,"e":0.2,"f":1.2},
{"t":"2012-06-08","a":0,"b":2.5,"c":0.6,"d":5.5,"e":0.2,"f":1.4},
{"t":"2012-06-11","a":0.1,"b":0.2,"c":3.0,"d":40.8,"e":0.2,"f":2.0},
{"t":"2012-06-14","a":0,"b":2.0,"c":0.6,"d":5.0,"e":0.1,"f":1.3},
{"t":"2012-06-17","a":0,"b":1.3,"c":0.4,"d":3.5,"e":0.1,"f":1.2},
{"t":"2012-06-23","a":0,"b":1.4,"c":0.5,"d":3.8,"e":0.1,"f":1.3},
{"t":"2012-06-26","a":0,"b":1.7,"c":0.5,"d":4.3,"e":0.1,"f":1.4},
{"t":"2012-06-29","a":0,"b":1.6,"c":0.5,"d":4.0,"e":0.1,"f":1.3},
{"t":"2012-07-02","a":0,"b":2.0,"c":0.8,"d":5.8,"e":0.1,"f":1.5},
{"t":"2012-07-05","a":0,"b":1.4,"c":0.5,"d":3.9,"e":0.1,"f":1.3},
{"t":"2012-07-08","a":0,"b":1.7,"c":0.5,"d":4.3,"e":0.1,"f":1.4},
{"t":"2012-07-11","a":0,"b":1.0,"c":0.4,"d":2.8,"e":0.1,"f":1.2},
{"t":"2012-07-14","a":0,"b":0.7,"c":0.3,"d":2.1,"e":0.1,"f":1.0},
{"t":"2012-07-17","a":0,"b":1.2,"c":0.4,"d":2.9,"e":0.1,"f":1.2},
{"t":"2012-07-20","a":0,"b":0.6,"c":0.3,"d":1.8,"e":0.1,"f":1.0},
{"t":"2012-07-23","a":0,"b":1.0,"c":0.3,"d":2.5,"e":0.1,"f":1.1},
{"t":"2012-07-26","a":0,"b":0.8,"c":0.3,"d":2.2,"e":0.1,"f":1.0},
{"t":"2012-07-29","a":0,"b":1.3,"c":0.4,"d":3.0,"e":0.1,"f":1.2},
{"t":"2012-08-01","a":0,"b":0.8,"c":0.3,"d":2.2,"e":0.1,"f":1.1},
{"t":"2012-08-04","a":0,"b":0.6,"c":0.3,"d":1.9,"e":0.1,"f":1.0},
{"t":"2012-08-07","a":0,"b":1.1,"c":0.3,"d":2.5,"e":0.1,"f":1.2},
{"t":"2012-08-10","a":0,"b":0.7,"c":0.3,"d":1.9,"e":0.1,"f":1.0},
{"t":"2012-08-13","a":0,"b":1.0,"c":0.3,"d":2.3,"e":0.1,"f":1.1},
{"t":"2012-08-16","a":0,"b":1.1,"c":0.4,"d":2.6,"e":0.1,"f":1.2},
{"t":"2012-08-19","a":0,"b":0.8,"c":0.3,"d":2.1,"e":0.1,"f":1.0},
{"t":"2012-08-22","a":0,"b":1.5,"c":0.4,"d":2.8,"e":0.1,"f":1.2},
{"t":"2012-08-25","a":0,"b":1.0,"c":0.3,"d":2.2,"e":0.1,"f":1.0},
{"t":"2012-08-28","a":0,"b":1.2,"c":0.3,"d":2.4,"e":0.1,"f":1.1},
{"t":"2012-08-31","a":0,"b":0.9,"c":0.3,"d":2.0,"e":0.1,"f":1.0},
{"t":"2012-09-03","a":0,"b":1.3,"c":0.4,"d":2.5,"e":0.1,"f":1.1},
{"t":"2012-09-06","a":0,"b":1.0,"c":0.3,"d":2.1,"e":0.1,"f":1.0},
{"t":"2012-09-09","a":0,"b":1.6,"c":0.4,"d":2.7,"e":0.1,"f":1.2},
{"t":"2012-09-12","a":0,"b":1.0,"c":0.3,"d":2.0,"e":0.1,"f":1.0},
{"t":"2012-09-15","a":0,"b":1.3,"c":0.3,"d":2.2,"e":0.1,"f":1.1},
{"t":"2012-09-18","a":0,"b":0.9,"c":0.3,"d":1.8,"e":0.1,"f":0.9},
{"t":"2012-09-21","a":0,"b":1.3,"c":0.3,"d":2.1,"e":0.1,"f":1.0},
{"t":"2012-09-24","a":0,"b":0.9,"c":0.2,"d":1.7,"e":0.1,"f":0.9},
{"t":"2012-09-27","a":0,"b":1.5,"c":0.3,"d":2.2,"e":0.1,"f":1.1},
{"t":"2012-09-30","a":0,"b":1.1,"c":0.3,"d":1.8,"e":0.1,"f":0.9},
{"t":"2012-10-03","a":0,"b":1.2,"c":0.3,"d":1.9,"e":0.2,"f":1.0},
{"t":"2012-10-06","a":0,"b":0.9,"c":0.2,"d":1.5,"e":0.2,"f":0.8},
{"t":"2012-10-09","a":0,"b":1.0,"c":0.3,"d":1.6,"e":0.2,"f":0.9},
{"t":"2012-10-12","a":0,"b":0.8,"c":0.2,"d":1.4,"e":0.2,"f":0.8},
{"t":"2012-10-15","a":0,"b":2.2,"c":0.4,"d":2.2,"e":0.2,"f":1.0},
{"t":"2012-10-18","a":0,"b":0.9,"c":0.2,"d":1.2,"e":0.2,"f":0.7},
{"t":"2012-10-21","a":0,"b":1.1,"c":0.2,"d":1.4,"e":0.2,"f":0.8},
{"t":"2012-10-24","a":0,"b":0.7,"c":0.2,"d":1.1,"e":0.2,"f":0.6},
{"t":"2012-10-27","a":0,"b":1.1,"c":0.2,"d":1.3,"e":0.2,"f":0.7},
{"t":"2012-10-30","a":0,"b":0.9,"c":0.2,"d":1.1,"e":0.2,"f":0.6},
{"t":"2012-11-02","a":0,"b":1.2,"c":0.3,"d":1.3,"e":0.3,"f":0.7},
{"t":"2012-11-05","a":0,"b":0.7,"c":0.2,"d":1.0,"e":0.3,"f":0.6},
{"t":"2012-11-08","a":0,"b":1.1,"c":0.2,"d":1.1,"e":0.4,"f":0.6},
{"t":"2012-11-11","a":0,"b":0.8,"c":0.2,"d":0.9,"e":0.3,"f":0.5},
{"t":"2012-11-14","a":0,"b":1.1,"c":0.3,"d":1.1,"e":0.5,"f":0.6},
{"t":"2012-11-17","a":0,"b":0.9,"c":0.2,"d":1.0,"e":0.3,"f":0.5},
{"t":"2012-11-20","a":0,"b":1.1,"c":0.2,"d":1.1,"e":0.3,"f":0.6},
{"t":"2012-11-23","a":0,"b":0.7,"c":0.2,"d":0.9,"e":0.3,"f":0.5},
{"t":"2012-11-26","a":0,"b":1.2,"c":0.3,"d":1.2,"e":0.4,"f":0.6},
{"t":"2012-11-29","a":0,"b":0.9,"c":0.2,"d":0.9,"e":0.3,"f":0.5},
{"t":"2012-12-02","a":0,"b":0.6,"c":0.2,"d":0.7,"e":0.3,"f":0.4},
{"t":"2012-12-05","a":0,"b":0.9,"c":0.2,"d":0.8,"e":0.4,"f":0.5},
{"t":"2012-12-08","a":0,"b":0.4,"c":0.1,"d":0.5,"e":0.3,"f":0.3},
{"t":"2012-12-11","a":0,"b":0.2,"c":0.1,"d":0.4,"e":0.2,"f":0.3},
{"t":"2012-12-14","a":0,"b":0.1,"c":0.1,"d":0.2,"e":0.2,"f":0.2},
{"t":"2012-12-17","a":0,"b":0.3,"c":0.1,"d":0.4,"e":0.3,"f":0.3},
{"t":"2012-12-20","a":0,"b":0.1,"c":0.1,"d":0.2,"e":0.1,"f":0.2},
{"t":"2012-12-23","a":0,"b":0.2,"c":0.1,"d":0.3,"e":0.2,"f":0.2},
{"t":"2012-12-26","a":0,"b":0.4,"c":0.1,"d":0.4,"e":0.3,"f":0.3},
{"t":"2012-12-29","a":0,"b":0.1,"c":0.1,"d":0.3,"e":0.2,"f":0.2},
{"t":"2013-01-01","a":0,"b":0.2,"c":0.1,"d":0.4,"e":0.3,"f":0.3},
{"t":"2013-01-04","a":0,"b":0.6,"c":0.2,"d":0.8,"e":0.4,"f":0.4},
{"t":"2013-01-07","a":0,"b":0.3,"c":0.1,"d":0.6,"e":0.3,"f":0.3},
{"t":"2013-01-10","a":0,"b":0.9,"c":0.5,"d":2.0,"e":0.4,"f":0.5},
{"t":"2013-01-13","a":0,"b":0.4,"c":0.1,"d":0.7,"e":0.3,"f":0.3},
{"t":"2013-01-16","a":0,"b":0.2,"c":0.1,"d":0.4,"e":0.2,"f":0.3},
{"t":"2013-01-19","a":0,"b":0.1,"c":0.1,"d":0.3,"e":0.2,"f":0.2},
{"t":"2013-01-22","a":0,"b":0.3,"c":0.1,"d":0.4,"e":0.3,"f":0.3},
{"t":"2013-01-25","a":0,"b":0.2,"c":0.1,"d":0.3,"e":0.2,"f":0.2},
{"t":"2013-01-28","a":0,"b":0.3,"c":0.1,"d":0.4,"e":0.2,"f":0.3},
{"t":"2013-01-31","a":0,"b":0.1,"c":0.1,"d":0.2,"e":0.2,"f":0.2},
{"t":"2013-02-03","a":0,"b":0.3,"c":0.1,"d":0.3,"e":0.2,"f":0.3},
{"t":"2013-02-06","a":0,"b":0.9,"c":0.1,"d":0.5,"e":0.3,"f":0.4},
{"t":"2013-02-09","a":0,"b":0.4,"c":0.1,"d":0.4,"e":0.2,"f":0.3},
{"t":"2013-02-12","a":0.1,"b":4.8,"c":0.2,"d":0.8,"e":0.3,"f":0.6},
{"t":"2013-02-15","a":0,"b":0.7,"c":0.1,"d":0.5,"e":0.3,"f":0.4},
{"t":"2013-02-18","a":0,"b":0.5,"c":0.1,"d":0.4,"e":0.2,"f":0.3},
{"t":"2013-02-21","a":0,"b":1.5,"c":0.1,"d":0.6,"e":0.3,"f":0.5},
{"t":"2013-02-24","a":0,"b":1.2,"c":0.1,"d":0.6,"e":0.3,"f":0.5},
{"t":"2013-02-27","a":0,"b":1.8,"c":0.2,"d":0.7,"e":0.3,"f":0.6},
{"t":"2013-03-02","a":0,"b":1.4,"c":0.1,"d":0.6,"e":0.3,"f":0.5},
{"t":"2013-03-05","a":0,"b":1.9,"c":0.2,"d":0.8,"e":0.3,"f":0.6},
{"t":"2013-03-08","a":0.1,"b":3.5,"c":0.2,"d":0.9,"e":0.3,"f":0.7},
{"t":"2013-03-11","a":0,"b":1.6,"c":0.2,"d":0.7,"e":0.3,"f":0.6},
{"t":"2013-03-14","a":0,"b":1.4,"c":0.1,"d":0.6,"e":0.2,"f":0.5},
{"t":"2013-03-17","a":0,"b":1.4,"c":0.2,"d":0.7,"e":0.3,"f":0.6},
{"t":"2013-03-20","a":0,"b":2.5,"c":0.2,"d":0.8,"e":0.3,"f":0.7},
{"t":"2013-03-23","a":0,"b":2.9,"c":0.2,"d":0.9,"e":0.3,"f":0.7},
{"t":"2013-03-26","a":0.2,"b":6.2,"c":0.3,"d":1.2,"e":0.3,"f":1.0},
{"t":"2013-03-29","a":0,"b":2.2,"c":0.2,"d":0.9,"e":0.3,"f":0.7},
{"t":"2013-04-01","a":0,"b":1.5,"c":0.2,"d":0.7,"e":0.2,"f":0.6},
{"t":"2013-04-04","a":0,"b":3.0,"c":0.2,"d":0.9,"e":0.3,"f":0.8},
{"t":"2013-04-07","a":0,"b":1.9,"c":0.2,"d":0.8,"e":0.2,"f":0.7},
{"t":"2013-04-10","a":0,"b":3.3,"c":0.2,"d":0.9,"e":0.3,"f":0.8},
{"t":"2013-04-13","a":0,"b":2.6,"c":0.2,"d":0.9,"e":0.3,"f":0.8},
{"t":"2013-04-16","a":0.3,"b":7.8,"c":0.3,"d":1.4,"e":0.3,"f":1.2},
{"t":"2013-04-19","a":0,"b":3.1,"c":0.2,"d":1.0,"e":0.3,"f":0.9},
{"t":"2013-04-22","a":0.2,"b":4.7,"c":0.3,"d":1.2,"e":0.3,"f":1.0},
{"t":"2013-04-25","a":0,"b":2.5,"c":0.2,"d":0.9,"e":0.2,"f":0.8},
{"t":"2013-04-28","a":0,"b":3.5,"c":0.2,"d":1.1,"e":0.3,"f":0.9},
{"t":"2013-05-01","a":0,"b":3.7,"c":0.3,"d":1.2,"e":0.3,"f":1.0},
{"t":"2013-05-04","a":0.3,"b":7.0,"c":0.3,"d":1.5,"e":0.3,"f":1.2},
{"t":"2013-05-07","a":0,"b":3.5,"c":0.2,"d":1.1,"e":0.3,"f":0.9},
{"t":"2013-05-10","a":0,"b":2.5,"c":0.2,"d":1.0,"e":0.3,"f":0.8},
{"t":"2013-05-13","a":0,"b":3.5,"c":0.3,"d":1.2,"e":0.3,"f":1.0},
{"t":"2013-05-16","a":0,"b":2.6,"c":0.2,"d":1.1,"e":0.2,"f":0.9},
{"t":"2013-05-19","a":0,"b":2.9,"c":0.3,"d":1.3,"e":0.3,"f":1.0},
{"t":"2013-05-22","a":0,"b":2.3,"c":0.2,"d":1.0,"e":0.2,"f":0.8},
{"t":"2013-05-25","a":0.2,"b":4.5,"c":0.3,"d":1.5,"e":0.3,"f":1.1},
{"t":"2013-05-28","a":0,"b":2.0,"c":0.2,"d":1.0,"e":0.2,"f":0.8},
{"t":"2013-05-31","a":0,"b":3.4,"c":0.3,"d":1.5,"e":0.3,"f":1.1},
{"t":"2013-06-03","a":0,"b":2.5,"c":0.3,"d":1.5,"e":0.2,"f":1.0},
{"t":"2013-06-06","a":0,"b":3.3,"c":0.3,"d":2.0,"e":0.2,"f":1.2},
{"t":"2013-06-09","a":0.2,"b":3.7,"c":0.4,"d":2.5,"e":0.2,"f":1.3},
{"t":"2013-06-12","a":0,"b":2.7,"c":0.3,"d":1.9,"e":0.2,"f":1.1},
{"t":"2013-06-15","a":0,"b":3.3,"c":0.3,"d":2.2,"e":0.2,"f":1.2},
{"t":"2013-06-18","a":0,"b":2.3,"c":0.3,"d":1.8,"e":0.2,"f":1.0},
{"t":"2013-06-21","a":0,"b":3.1,"c":0.3,"d":2.2,"e":0.2,"f":1.2},
{"t":"2013-06-24","a":0,"b":2.4,"c":0.3,"d":2.0,"e":0.2,"f":1.1},
{"t":"2013-06-27","a":0.2,"b":5.3,"c":0.5,"d":3.0,"e":0.2,"f":1.4},
{"t":"2013-06-30","a":0,"b":4.6,"c":0.4,"d":2.8,"e":0.2,"f":1.3},
{"t":"2013-07-03","a":0,"b":3.3,"c":0.4,"d":2.8,"e":0.2,"f":1.3},
{"t":"2013-07-06","a":0,"b":3.9,"c":0.4,"d":3.2,"e":0.2,"f":1.3},
{"t":"2013-07-09","a":0,"b":2.1,"c":0.3,"d":2.4,"e":0.2,"f":1.2},
{"t":"2013-07-12","a":0,"b":1.5,"c":0.3,"d":2.0,"e":0.1,"f":1.1},
{"t":"2013-07-15","a":0,"b":1.7,"c":0.3,"d":2.3,"e":0.1,"f":1.2},
{"t":"2013-07-18","a":0,"b":1.1,"c":0.3,"d":1.9,"e":0.1,"f":1.0},
{"t":"2013-07-21","a":0,"b":1.7,"c":0.4,"d":2.5,"e":0.1,"f":1.2},
{"t":"2013-07-24","a":0,"b":1.2,"c":0.3,"d":2.0,"e":0.1,"f":1.0},
{"t":"2013-07-27","a":0,"b":1.5,"c":0.3,"d":2.3,"e":0.1,"f":1.1},
{"t":"2013-07-30","a":0,"b":1.1,"c":0.3,"d":1.8,"e":0.1,"f":1.0},
{"t":"2013-08-02","a":0,"b":1.6,"c":0.3,"d":2.4,"e":0.1,"f":1.1},
{"t":"2013-08-05","a":0,"b":1.2,"c":0.3,"d":1.9,"e":0.1,"f":1.0},
{"t":"2013-08-08","a":0,"b":1.7,"c":0.4,"d":2.6,"e":0.1,"f":1.2},
{"t":"2013-08-11","a":0,"b":1.3,"c":0.3,"d":2.1,"e":0.1,"f":1.0},
{"t":"2013-08-14","a":0,"b":1.5,"c":0.3,"d":2.4,"e":0.1,"f":1.1},
{"t":"2013-08-17","a":0,"b":2.3,"c":0.4,"d":3.0,"e":0.1,"f":1.3},
{"t":"2013-08-20","a":0,"b":1.2,"c":0.3,"d":2.3,"e":0.1,"f":1.1},
{"t":"2013-08-23","a":0,"b":1.6,"c":0.4,"d":3.0,"e":0.1,"f":1.2},
{"t":"2013-08-26","a":0,"b":1.1,"c":0.3,"d":2.4,"e":0.1,"f":1.0},
{"t":"2013-08-29","a":0,"b":1.4,"c":0.4,"d":2.8,"e":0.1,"f":1.1},
{"t":"2013-09-01","a":0,"b":1.5,"c":0.4,"d":3.0,"e":0.1,"f":1.1},
{"t":"2013-09-04","a":0,"b":1.1,"c":0.3,"d":2.4,"e":0.1,"f":1.0},
{"t":"2013-09-07","a":0,"b":1.4,"c":0.3,"d":2.7,"e":0.1,"f":1.1},
{"t":"2013-09-10","a":0,"b":0.9,"c":0.3,"d":2.0,"e":0.1,"f":0.9},
{"t":"2013-09-13","a":0,"b":1.2,"c":0.3,"d":2.4,"e":0.1,"f":1.0},
{"t":"2013-09-16","a":0,"b":0.8,"c":0.2,"d":1.6,"e":0.1,"f":0.8},
{"t":"2013-09-19","a":0,"b":0.5,"c":0.2,"d":1.3,"e":0.1,"f":0.7},
{"t":"2013-09-22","a":0,"b":0.4,"c":0.1,"d":0.9,"e":0.1,"f":0.5},
{"t":"2013-09-25","a":0,"b":0.2,"c":0.1,"d":0.6,"e":0.1,"f":0.4},
{"t":"2013-09-28","a":0,"b":0.4,"c":0.1,"d":0.8,"e":0.1,"f":0.4},
{"t":"2013-10-01","a":0,"b":0.2,"c":0.1,"d":0.5,"e":0.1,"f":0.3},
{"t":"2013-10-04","a":0,"b":0.3,"c":0.1,"d":0.7,"e":0.1,"f":0.4},
{"t":"2013-10-07","a":0,"b":0.1,"c":0.1,"d":0.4,"e":0.1,"f":0.3},
{"t":"2013-10-10","a":0,"b":0.4,"c":0.1,"d":0.8,"e":0.2,"f":0.4},
{"t":"2013-10-13","a":0,"b":0.3,"c":0.1,"d":0.5,"e":0.1,"f":0.3},
{"t":"2013-10-19","a":0,"b":0.6,"c":0.2,"d":1.0,"e":0.2,"f":0.4},
{"t":"2013-10-22","a":0,"b":1.1,"c":0.4,"d":1.6,"e":0.2,"f":0.5},
{"t":"2013-10-25","a":0,"b":0.8,"c":0.2,"d":1.1,"e":0.2,"f":0.4},
{"t":"2013-10-28","a":0,"b":0.9,"c":0.3,"d":1.3,"e":0.2,"f":0.5},
{"t":"2013-10-31","a":0,"b":0.5,"c":0.1,"d":0.7,"e":0.2,"f":0.3},
{"t":"2013-11-03","a":0,"b":0.3,"c":0.1,"d":0.6,"e":0.2,"f":0.3},
{"t":"2013-11-06","a":0,"b":0.5,"c":0.2,"d":0.8,"e":0.3,"f":0.4},
{"t":"2013-11-09","a":0,"b":0.2,"c":0.1,"d":0.5,"e":0.2,"f":0.3},
{"t":"2013-11-12","a":0,"b":0.5,"c":0.1,"d":0.7,"e":0.3,"f":0.3},
{"t":"2013-11-15","a":0,"b":0.6,"c":0.2,"d":0.8,"e":0.3,"f":0.4},
{"t":"2013-11-18","a":0,"b":0.3,"c":0.1,"d":0.5,"e":0.2,"f":0.3},
{"t":"2013-11-21","a":0,"b":0.6,"c":0.1,"d":0.7,"e":0.3,"f":0.3},
{"t":"2013-11-24","a":0,"b":0.4,"c":0.1,"d":0.6,"e":0.2,"f":0.3},
{"t":"2013-11-27","a":0,"b":0.6,"c":0.1,"d":0.7,"e":0.3,"f":0.4},
{"t":"2013-11-30","a":0,"b":0.2,"c":0.1,"d":0.4,"e":0.2,"f":0.3},
{"t":"2013-12-03","a":0,"b":0.4,"c":0.1,"d":0.6,"e":0.3,"f":0.3},
{"t":"2013-12-06","a":0,"b":0.2,"c":0.1,"d":0.5,"e":0.2,"f":0.3},
{"t":"2013-12-09","a":0,"b":0.5,"c":0.2,"d":0.7,"e":0.3,"f":0.3},
{"t":"2013-12-12","a":0,"b":1.1,"c":0.4,"d":1.2,"e":0.4,"f":0.4},
{"t":"2013-12-15","a":0,"b":0.3,"c":0.1,"d":0.5,"e":0.2,"f":0.3},
{"t":"2013-12-18","a":0,"b":0.1,"c":0.1,"d":0.3,"e":0.2,"f":0.2},
{"t":"2013-12-21","a":0,"b":0.3,"c":0.1,"d":0.4,"e":0.2,"f":0.2},
{"t":"2013-12-24","a":0,"b":0.1,"c":0.1,"d":0.3,"e":0.1,"f":0.2},
{"t":"2013-12-27","a":0,"b":0.2,"c":0.1,"d":0.4,"e":0.2,"f":0.2},
{"t":"2013-12-30","a":0,"b":0.1,"c":0.1,"d":0.2,"e":0.1,"f":0.2}
]},
"transform":[{"fold":["a","b","c","d","e","f"],"as":["k","v"]}],
"mark":{"type":"bar","size":1.5},
"encoding":{
"x":{"field":"t","type":"temporal","scale":{"type":"utc","domain":[{"year":2008,"month":12,"date":30,"hours":8,"utc":true},{"year":2014,"month":1,"date":3,"hours":2,"utc":true}]},
"axis":{"values":[{"year":2009,"month":3,"date":2,"utc":true},{"year":2009,"month":5,"date":4,"utc":true},{"year":2009,"month":7,"date":6,"utc":true},{"year":2009,"month":9,"date":7,"utc":true},{"year":2009,"month":11,"date":9,"utc":true},{"year":2010,"month":1,"date":11,"utc":true},{"year":2010,"month":3,"date":15,"utc":true},{"year":2010,"month":5,"date":17,"utc":true},{"year":2010,"month":7,"date":19,"utc":true},{"year":2010,"month":9,"date":20,"utc":true},{"year":2010,"month":11,"date":22,"utc":true},{"year":2011,"month":1,"date":24,"utc":true},{"year":2011,"month":3,"date":28,"utc":true},{"year":2011,"month":5,"date":30,"utc":true},{"year":2011,"month":8,"date":1,"utc":true},{"year":2011,"month":10,"date":3,"utc":true},{"year":2011,"month":12,"date":5,"utc":true},{"year":2012,"month":2,"date":6,"utc":true},{"year":2012,"month":4,"date":9,"utc":true},{"year":2012,"month":6,"date":11,"utc":true},{"year":2012,"month":8,"date":13,"utc":true},{"year":2012,"month":10,"date":15,"utc":true},{"year":2012,"month":12,"date":17,"utc":true},{"year":2013,"month":2,"date":18,"utc":true},{"year":2013,"month":4,"date":22,"utc":true},{"year":2013,"month":6,"date":24,"utc":true},{"year":2013,"month":8,"date":26,"utc":true},{"year":2013,"month":10,"date":28,"utc":true},{"year":2013,"month":12,"date":30,"utc":true}],
"format":"%-m/%-d/%Y","labelAngle":270,"labelFontSize":13,"labelColor":"black","labelPadding":6,"labelOverlap":false,"labelFlush":false,"tickColor":"#888888","tickSize":7,"domain":false,"grid":false,
"title":"WRAP TSS - 4/21/2015","titleX":-75,"titleY":93,"titleAlign":"left","titleBaseline":"alphabetic","titleFontSize":11,"titleFontWeight":"normal","titleColor":"#444444"}},
"y":{"field":"v","type":"quantitative","stack":"zero","scale":{"domain":[0,51.1],"nice":false,"zero":true},
"axis":{"values":[0,10,20,30,40,50],"format":".1f","grid":true,"gridColor":"#888888","gridWidth":1,"tickColor":"#888888","tickSize":7,"labelPadding":9,"labelFontSize":13,"labelColor":"black","domain":false,"title":"Mass Concentration (ug/m3)","titleFontSize":14,"titleFontWeight":"normal","titleColor":"black","titlePadding":4}},
"color":{"field":"k","type":"nominal","scale":{"domain":["a","b","c","d","e","f"],"range":["#ADD8E6","#D2691E","#000000","#008000","#FF0000","#FFFF00"]},
"legend":{"title":null,"orient":"none","legendX":919,"legendY":69,"symbolType":"square","symbolSize":361,"symbolStrokeColor":"#999999","symbolStrokeWidth":1,"symbolOpacity":1,"labelFontSize":15,"labelColor":"black","labelOffset":5,"labelLimit":300,"rowPadding":6,"labelExpr":"{'a':'SeaSalt','b':'Soil','c':'Elemental Carbon','d':'Particulate Organic Mass','e':'Nitrate','f':'Sulfate'}[datum.label]"}},
"order":{"field":"k","sort":"descending"}
},
"config":{"font":"DejaVu Sans","view":{"stroke":"#8c8c8c","strokeWidth":1},"axis":{"labelFont":"DejaVu Sans","titleFont":"DejaVu Sans"},"legend":{"labelFont":"DejaVu Sans"},"title":{"font":"DejaVu Sans","subtitleFont":"DejaVu Sans"}}
}
